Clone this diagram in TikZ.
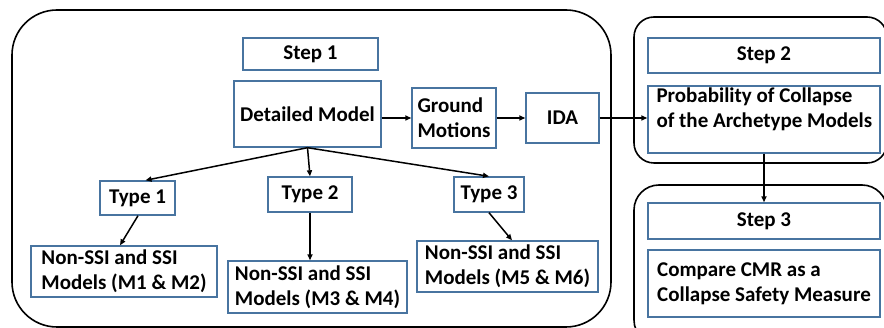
\documentclass[tikz,border=0pt]{standalone}
\usepackage{fontspec}
\setmainfont{Carlito}
\usetikzlibrary{arrows.meta}
\definecolor{boxblue}{RGB}{72,116,160}
\tikzset{
  bbox/.style={draw=boxblue, line width=1.4pt, fill=white, inner sep=0pt, font=\fontsize{21}{25}\selectfont\bfseries,
    execute at begin node={\spaceskip=0pt\xspaceskip=0pt}},
  txt/.style={inner sep=0pt, align=left, font=\fontsize{21}{25}\selectfont\bfseries,
    execute at begin node={\spaceskip=0pt\xspaceskip=0pt}},
  frame/.style={draw=black, line width=1.6pt},
  arr/.style={draw=black, line width=1.5pt, -{Triangle[length=6pt,width=5pt]}}
}
\begin{document}
\begin{tikzpicture}[x=1pt,y=-1pt]
\useasboundingbox (0,0) rectangle (884,328);
\clip (0,0) rectangle (884,328);
% frames
\draw[frame, rounded corners=45pt] (12,10) rectangle (611,327);
\draw[frame, rounded corners=20pt] (634,17) rectangle (887,163);
\draw[frame, rounded corners=25pt] (634,185) rectangle (887,345);
% step 1
\node[bbox, minimum width=135pt, minimum height=32pt] (step1) at (310.5,54) {Step 1};
\node[bbox, minimum width=147pt, minimum height=66pt] (dm) at (307.5,114) {Detailed Model};
\node[bbox, minimum width=84pt, minimum height=60pt, align=left] (gm) at (454,118) {Ground\\Motions};
\node[bbox, minimum width=73pt, minimum height=50pt] (ida) at (562.5,118) {IDA};
\node[bbox, minimum width=75pt, minimum height=34pt] (t1) at (137.5,198) {Type 1};
\node[bbox, minimum width=84pt, minimum height=35pt] (t2) at (310,194.5) {Type 2};
\node[bbox, minimum width=70pt, minimum height=35pt] (t3) at (489,194.5) {Type 3};
\node[bbox, minimum width=186pt, minimum height=51pt, align=left] (ns1) at (124,271.5) {Non-SSI and SSI\\Models (M1 \& M2)};
\node[bbox, minimum width=179pt, minimum height=52pt, align=left] (ns2) at (317.5,287) {Non-SSI and SSI\\Models (M3 \& M4)};
\node[bbox, minimum width=181pt, minimum height=51pt, align=left] (ns3) at (507.5,266.5) {Non-SSI and SSI\\Models (M5 \& M6)};
% step 2
\node[bbox, minimum width=232pt, minimum height=35pt] (step2) at (764,55.5) {Step 2};
\node[bbox, minimum width=232pt, minimum height=67pt] (prob) at (764,119.5) {};
\node[txt, anchor=north west] (probt) at ([shift={(9,2)}]prob.north west) {Probability of Collapse\\of the Archetype Models};
% step 3
\node[bbox, minimum width=232pt, minimum height=36pt] (step3) at (764,221) {Step 3};
\node[bbox, minimum width=232pt, minimum height=67pt, align=left] (cmp) at (764,283.5) {Compare CMR as a\\Collapse Safety Measure};
% arrows
\draw[arr] (dm.east |- gm.west) -- (gm.west);
\draw[arr] (gm.east) -- (ida.west);
\draw[arr] (ida.east) -- (ida.east -| prob.west);
\draw[arr] (prob.south) -- (step3.north);
\draw[arr] (dm.south) -- ([xshift=8pt]t1.north);
\draw[arr] (dm.south) -- (t2.north);
\draw[arr] (dm.south) -- (t3.north);
\draw[arr] ([xshift=0.5pt]t1.south) -- ([xshift=-4pt]ns1.north);
\draw[arr] (t2.south) -- (t2.south |- ns2.north);
\draw[arr] (t3.south) -- ([xshift=4.5pt]ns3.north);
\end{tikzpicture}
\end{document}
